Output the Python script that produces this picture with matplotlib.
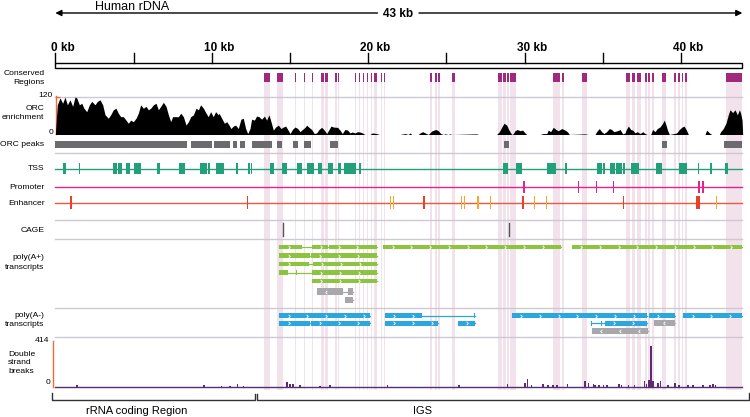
import numpy as np
import matplotlib
matplotlib.use('Agg')
import matplotlib.pyplot as plt
from matplotlib.path import Path
from matplotlib.patches import Rectangle

plt.rcParams['font.family'] = ['Liberation Sans', 'DejaVu Sans']

# ---------------- data (positions in kb along the rDNA unit) ----------------
RDNA_LEN = 43.93
ruler_ticks = [0, 5, 10, 15, 20, 25, 30, 35, 40]
ruler_labels = {0: '0 kb', 10: '10 kb', 20: '20 kb', 30: '30 kb', 40: '40 kb'}

conserved = [(13.36, 13.73), (14.19, 14.54), (15.33, 15.41), (15.90, 15.98), (16.41, 16.50),
             (16.97, 17.18), (17.22, 17.46), (17.88, 17.99), (18.09, 18.16), (19.14, 19.22),
             (19.40, 19.47), (19.65, 19.72), (19.91, 19.98), (20.16, 20.23), (20.36, 20.42),
             (20.44, 20.55), (20.82, 20.89), (21.02, 21.08), (23.96, 24.10), (24.28, 24.40),
             (24.49, 24.62), (25.38, 25.55), (28.32, 28.54), (28.64, 28.80), (28.90, 29.03),
             (29.09, 29.44), (31.84, 32.27), (32.38, 32.54), (33.70, 33.98), (36.49, 36.74),
             (36.85, 37.07), (37.21, 37.45), (37.70, 37.81), (37.92, 38.02), (38.13, 38.26),
             (38.81, 39.03), (39.56, 39.69), (39.83, 39.94), (40.05, 40.15), (40.26, 40.37),
             (42.86, 43.93)]

orc_kb = [0.0, 0.13, 0.30, 0.47, 0.62, 0.77, 0.94, 1.11, 1.26, 1.37, 1.54, 1.69, 1.83, 2.01,
          2.18, 2.33, 2.54, 2.69, 2.86, 3.03, 3.18, 3.39, 3.54, 3.71, 3.88, 4.03, 4.18, 4.35,
          4.52, 4.67, 4.82, 4.99, 5.16, 5.31, 5.46, 5.63, 5.80, 5.95, 6.10, 6.27, 6.44, 6.59,
          6.74, 6.91, 7.08, 7.23, 7.38, 7.50, 7.65, 7.87, 8.02, 8.19, 8.36, 8.51, 8.66, 8.83,
          9.00, 9.15, 9.29, 9.47, 9.64, 9.78, 9.93, 10.10, 10.25, 10.42, 10.47, 10.64, 10.81,
          10.96, 11.11, 11.23, 11.38, 11.53, 11.70, 11.87, 12.02, 12.17, 12.30, 12.45, 12.55,
          12.73, 12.87, 13.02, 13.19, 13.37, 13.51, 13.66, 13.79, 13.94, 14.09, 14.26, 14.43,
          14.58, 14.73, 14.86, 15.01, 15.16, 15.33, 15.50, 15.65, 15.80, 15.97, 16.07, 16.22,
          16.39, 16.56, 16.71, 16.86, 17.03, 17.20, 17.35, 17.50, 17.63, 17.78, 17.93, 18.05,
          18.20, 18.35, 18.52, 18.69, 18.84, 18.99, 19.16, 19.33, 19.48, 19.63, 19.80, 20.12,
          20.27, 20.55, 20.70, 22.04, 22.36, 22.57, 22.68, 22.79, 23.21, 23.32, 23.49, 23.64,
          23.85, 24.07, 24.21, 24.34, 24.49, 24.64, 24.81, 24.92, 25.13, 25.24, 25.34, 26.94,
          27.05, 28.22, 28.39, 28.54, 28.69, 28.86, 29.01, 29.18, 29.29, 29.39, 29.54, 29.71,
          29.88, 30.03, 30.14, 30.99, 31.20, 31.42, 31.52, 31.67, 31.84, 32.01, 32.16, 32.38,
          32.59, 32.74, 32.87, 33.87, 34.08, 34.51, 34.61, 34.78, 34.93, 35.08, 35.25, 35.42,
          35.57, 35.72, 35.94, 36.11, 36.28, 36.43, 36.49, 36.64, 36.79, 36.92, 37.07, 37.21,
          37.39, 37.56, 37.70, 37.85, 38.07, 38.19, 38.34, 38.49, 38.66, 38.83, 38.94, 39.05,
          39.13, 39.26, 39.56, 39.73, 39.90, 40.05, 40.20, 40.33, 40.48, 41.54, 41.65, 41.82,
          41.97, 42.46, 42.54, 42.71, 42.88, 43.03, 43.14, 43.31, 43.46, 43.61, 43.74, 43.82,
          43.91, 43.95]
orc_val = [0, 95, 117, 100, 120, 95, 111, 90, 120, 117, 95, 100, 84, 73,
           95, 106, 95, 106, 111, 95, 63, 52, 63, 79, 84, 68, 57, 57,
           46, 36, 46, 41, 52, 68, 95, 84, 90, 79, 84, 95, 100, 79,
           90, 103, 90, 63, 41, 57, 57, 57, 68, 57, 30, 41, 57, 63,
           84, 79, 95, 84, 68, 57, 73, 57, 73, 63, 68, 52, 36,
           41, 30, 19, 27, 30, 19, 49, 52, 19, 3, 19, 49,
           46, 59, 57, 49, 59, 46, 63, 41, 14, 24, 30, 19,
           24, 27, 16, 3, 16, 24, 19, 9, 16, 23, 30, 23,
           16, 3, 5, 16, 23, 14, 3, 16, 27, 24, 23, 23,
           14, 3, 16, 14, 5, 8, 5, 9, 8, 5, 0, 0,
           5, 3, 0, 0, 3, 0, 5, 0, 0, 5, 9, 5,
           0, 11, 14, 16, 12, 3, 0, 2, 0, 2, 0, 2,
           0, 0, 9, 23, 36, 30, 14, 0, 3, 12, 16, 12,
           14, 5, 0, 0, 3, 3, 14, 9, 23, 16, 12, 19,
           14, 9, 0, 2, 0, 0, 9, 19, 9, 3, 9, 19,
           16, 9, 12, 16, 2, 5, 14, 27, 16, 14, 5, 9,
           3, 9, 3, 0, 0, 16, 9, 19, 24, 36, 46, 30,
           16, 0, 3, 5, 16, 23, 27, 16, 0, 0, 14, 5,
           0, 0, 9, 19, 36, 63, 79, 70, 79, 63, 79, 68,
           46, 0]

orc_peaks = [(0.0, 8.40), (8.68, 10.0), (10.17, 11.17), (11.38, 11.64), (11.81, 12.13),
             (12.56, 13.84), (14.19, 14.48), (15.22, 15.50), (15.92, 16.33), (17.56, 18.09),
             (28.69, 29.01), (38.77, 39.09), (42.77, 43.89)]

tss = [(0.51, 0.66), (1.50, 1.58), (3.71, 3.96), (4.03, 4.25), (4.52, 4.78), (5.05, 5.46),
       (6.52, 6.69), (7.91, 8.29), (9.27, 9.68), (9.78, 9.89), (10.28, 10.79), (11.53, 11.66),
       (12.34, 12.40), (12.49, 12.60), (13.73, 14.00), (14.48, 14.83), (15.43, 15.79),
       (16.07, 16.54), (16.82, 17.07), (17.46, 17.77), (18.09, 18.25), (18.48, 19.23),
       (19.44, 19.53), (28.64, 28.93), (29.46, 29.86), (31.42, 32.00), (32.59, 32.70),
       (34.65, 34.94), (35.04, 35.15), (35.47, 35.80), (35.85, 36.21), (36.32, 36.43),
       (36.81, 37.34), (38.41, 38.81), (39.88, 40.41), (41.07, 41.18), (41.86, 41.97),
       (42.82, 43.03)]

promoter = [(29.92, 29.98), (33.41, 33.47), (34.54, 34.60), (35.63, 35.69), (41.11, 41.22),
            (41.33, 41.48)]

enhancer_red = [(0.97, 1.03), (12.27, 12.33), (23.54, 23.60), (29.87, 29.93), (36.31, 36.37),
                (40.96, 41.22)]
enhancer_orange = [(21.37, 21.43), (21.58, 21.64), (25.94, 26.02), (26.11, 26.19),
                   (26.94, 27.09), (27.81, 27.87), (30.58, 30.64), (31.39, 31.45),
                   (42.26, 42.32)]

cage = [14.58, 29.01]

# transcripts: (row, exons, strand, colour key)
polyA_plus = [
    (0, [(14.32, 15.75), (16.39, 17.46), (17.52, 20.57)], '+', 'green'),
    (0, [(20.97, 32.33)], '+', 'green'),
    (0, [(33.02, 43.89)], '+', 'green'),
    (1, [(14.32, 16.29), (16.35, 20.57)], '+', 'green'),
    (2, [(14.32, 16.24), (16.48, 20.57)], '+', 'green'),
    (3, [(14.32, 14.90), (15.40, 15.46), (16.39, 20.57)], '+', 'green'),
    (4, [(16.39, 20.57)], '+', 'green'),
    (5, [(16.71, 18.41), (18.73, 19.02)], '-', 'gray'),
    (6, [(18.52, 19.02)], '-', 'gray'),
]
polyA_minus = [
    (0, [(14.32, 20.12)], '+', 'blue'),
    (0, [(21.08, 23.43), (23.94, 23.98), (25.15, 25.19), (26.43, 26.47), (26.80, 26.84)], '+', 'blue'),
    (0, [(29.18, 37.81)], '+', 'blue'),
    (0, [(37.96, 39.62)], '+', 'blue'),
    (0, [(40.15, 43.89)], '+', 'blue'),
    (1, [(14.32, 16.29), (16.35, 20.12)], '+', 'blue'),
    (1, [(21.08, 24.45)], '+', 'blue'),
    (1, [(25.73, 26.84)], '+', 'blue'),
    (1, [(34.25, 34.30), (34.92, 34.96), (35.15, 37.81)], '+', 'blue'),
    (1, [(38.30, 39.62)], '-', 'gray'),
    (2, [(34.30, 37.88)], '-', 'gray'),
]

dsb_kb = [1.37, 9.51, 10.64, 11.17, 11.64, 12.02, 14.80, 15.00, 15.20, 15.65, 16.92, 17.56,
          21.23, 25.83, 28.90, 30.03, 30.18, 30.46, 31.20, 31.52, 31.84, 32.06, 32.75, 33.87,
          34.08, 34.40, 34.51, 34.76, 35.04, 35.26, 36.04, 36.21, 36.64, 37.02, 37.66, 37.81,
          37.96, 38.09, 38.20, 38.55, 38.70, 39.19, 39.62, 39.88, 40.47, 40.79, 41.43, 41.86,
          42.07, 42.22]
dsb_val = [18, 18, 9, 9, 27, 9, 45, 27, 27, 18, 9, 18,
           18, 18, 27, 36, 72, 18, 27, 18, 18, 18, 27, 54,
           36, 27, 18, 18, 18, 18, 27, 18, 18, 18, 54, 27,
           63, 366, 54, 36, 54, 18, 36, 18, 18, 18, 18, 18,
           27, 18]

# ---------------- styling ----------------
W, H = 750, 417
PX_PER_KB = 15.64
X0 = -55.3 / PX_PER_KB
X1 = X0 + W / PX_PER_KB

col = {'green': '#8cc43f', 'blue': '#2aa7df', 'gray': '#a8a8ac'}
pink = '#f1e2ec'
sep = '#cfc7d2'
axis_orange = '#f26a3a'

fig = plt.figure(figsize=(7.5, 4.17), dpi=100)
ax = fig.add_axes([0, 0, 1, 1])
ax.set_xlim(X0, X1)
ax.set_ylim(H, 0)
ax.axis('off')
lab = ax.get_yaxis_transform()
LX = 44.5 / W
FS = 6.1

# top arrow
ax.text(2.55, 9.5, 'Human rDNA', fontsize=9, va='baseline', ha='left')
ax.annotate('', xy=(0, 13), xytext=(20.6, 13),
            arrowprops=dict(arrowstyle='-|>', color='black', lw=1, mutation_scale=9, shrinkA=0, shrinkB=0))
ax.annotate('', xy=(RDNA_LEN, 13), xytext=(23.25, 13),
            arrowprops=dict(arrowstyle='-|>', color='black', lw=1, mutation_scale=9, shrinkA=0, shrinkB=0))
ax.text(21.93, 17.3, '43 kb', fontsize=8.5, fontweight='bold', ha='center', va='baseline')

# ruler
ax.add_patch(Rectangle((0, 63), RDNA_LEN, 5, fc='white', ec='black', lw=1))
for t in ruler_ticks:
    ax.plot([t, t], [52.5, 63], color='black', lw=1)
    if t in ruler_labels:
        off = 0.3 if t == 0 else 0.5
        ax.text(t - off, 50.7, ruler_labels[t], fontsize=8.5, fontweight='bold', ha='left', va='baseline')

# pink conserved columns
for s, e in conserved:
    ax.add_patch(Rectangle((s, 82), e - s, 308, fc=pink, ec='none', zorder=0))
    ax.add_patch(Rectangle((s, 73), e - s, 9, fc='#a0287d', ec='none', zorder=2))
ax.text(LX, 78, 'Conserved\nRegions', transform=lab, fontsize=FS, ha='right', va='center',
        linespacing=1.45)

# separators
for y in [97, 153, 220, 239, 308, 337]:
    ax.plot([0, RDNA_LEN], [y, y], color=sep, lw=1, zorder=1)

# ORC enrichment axis + labels
ax.plot([0.02, 0.02], [96, 134], color=axis_orange, lw=1)
ax.plot([0.02, 0.25], [96.5, 96.5], color=axis_orange, lw=1)
ax.text(53 / W, 95, '120', transform=lab, fontsize=FS, ha='right', va='center')
ax.text(53 / W, 132, '0', transform=lab, fontsize=FS, ha='right', va='center')
ax.text(LX, 113, 'ORC\nenrichment', transform=lab, fontsize=FS, ha='right', va='center',
        linespacing=1.45)

# ORC peaks
for s, e in orc_peaks:
    ax.add_patch(Rectangle((s, 141), e - s, 7, fc='#6b6b6f', ec='none', zorder=2))
ax.text(LX, 145, 'ORC peaks', transform=lab, fontsize=FS, ha='right', va='center')

# TSS
ax.plot([0, RDNA_LEN], [168.5, 168.5], color='#21a07a', lw=1, zorder=2)
for s, e in tss:
    ax.add_patch(Rectangle((s, 162.5), max(e - s, 0.08), 11, fc='#21a07a', ec='none', zorder=2))
ax.text(LX, 168, 'TSS', transform=lab, fontsize=FS, ha='right', va='center')

# Promoter
ax.plot([0, RDNA_LEN], [187, 187], color='#e3248c', lw=1, zorder=2)
for s, e in promoter:
    ax.add_patch(Rectangle((s, 181), max(e - s, 0.08), 12, fc='#e3248c', ec='none', zorder=2))
ax.text(LX, 187, 'Promoter', transform=lab, fontsize=FS, ha='right', va='center')

# Enhancer
ax.plot([0, RDNA_LEN], [202.5, 202.5], color='#ef5a3e', lw=1, zorder=2)
for s, e in enhancer_red:
    ax.add_patch(Rectangle((s, 196), max(e - s, 0.08), 13, fc='#e8402c', ec='none', zorder=3))
for s, e in enhancer_orange:
    ax.add_patch(Rectangle((s, 196), max(e - s, 0.08), 13, fc='#f5a82a', ec='none', zorder=3))
ax.text(LX, 203, 'Enhancer', transform=lab, fontsize=FS, ha='right', va='center')

# CAGE
for c in cage:
    ax.plot([c, c], [223, 236], color='#555555', lw=1, zorder=2)
ax.text(LX, 230, 'CAGE', transform=lab, fontsize=FS, ha='right', va='center')

# transcripts
chev = Path([(-0.5, 1), (0.5, 0), (-0.5, -1)], [Path.MOVETO, Path.LINETO, Path.LINETO])
chev_l = Path([(0.5, 1), (-0.5, 0), (0.5, -1)], [Path.MOVETO, Path.LINETO, Path.LINETO])


def draw_track(items, rows_y, heights):
    for row, exons, strand, ck in items:
        y = rows_y[row]
        h = heights[ck]
        c = col[ck]
        ax.plot([exons[0][0], exons[-1][1]], [y, y], color=c, lw=0.9, zorder=2)
        for s, e in exons:
            ax.add_patch(Rectangle((s, y - h / 2), e - s, h, fc=c, ec='none', zorder=3))
            if e - s > 0.7:
                xs = np.arange(s + 0.6, e - 0.25, 1.2)
                ax.plot(xs, [y] * len(xs), ls='none', marker=chev if strand == '+' else chev_l,
                        ms=2.4, mew=0.6, mec='white', mfc='none', zorder=4)


draw_track(polyA_plus, [247, 255.5, 264, 272.5, 281, 291.7, 300],
           {'green': 4.6, 'gray': 6.5})
ax.text(LX, 262.5, 'poly(A+)\ntranscripts', transform=lab, fontsize=FS, ha='right', va='center',
        linespacing=1.65)
draw_track(polyA_minus, [315.5, 323.2, 330.5], {'blue': 4.6, 'gray': 6})
ax.text(LX, 320, 'poly(A-)\ntranscripts', transform=lab, fontsize=FS, ha='right', va='center',
        linespacing=1.4)

# DSB labels
ax.plot([-0.15, -0.15], [341, 387], color=axis_orange, lw=1)
ax.text(49.5 / W, 341, '414', transform=lab, fontsize=FS, ha='right', va='center')
ax.text(50.5 / W, 383, '0', transform=lab, fontsize=FS, ha='right', va='center')
ax.text(8 / W, 363, 'Double\nstrand\nbreaks', transform=lab, fontsize=FS, ha='left', va='center',
        linespacing=1.25)
ax.plot([0, RDNA_LEN], [387.3, 387.3], color='#5c2d6e', lw=1, zorder=3)

# bottom brackets
ax.plot([-0.18, -0.18, 12.8, 12.8], [392.5, 400, 400, 393.5], color='#333333', lw=1)
ax.plot([12.92, 12.92, 44.35, 44.35], [393.5, 400, 400, 392.5], color='#333333', lw=1)
ax.text(5.2, 413.5, 'rRNA coding Region', fontsize=8, ha='center', va='baseline')
ax.text(23.5, 413.5, 'IGS', fontsize=8, ha='center', va='baseline')

# ---------------- signal tracks ----------------
def sub_axes(top, bottom, ymax):
    a = fig.add_axes([0, 1 - bottom / H, 1, (bottom - top) / H])
    a.set_xlim(X0, X1)
    a.set_ylim(0, ymax)
    a.axis('off')
    a.patch.set_alpha(0)
    return a


ax_orc = sub_axes(97, 134.5, 120)
ax_orc.fill_between(orc_kb, orc_val, 0, color='black', lw=0)

ax_dsb = sub_axes(341, 387.3, 414)
ax_dsb.bar(dsb_kb, dsb_val, width=0.1, color='#5c2d6e', align='center')

fig.savefig('out.png', dpi=100)
